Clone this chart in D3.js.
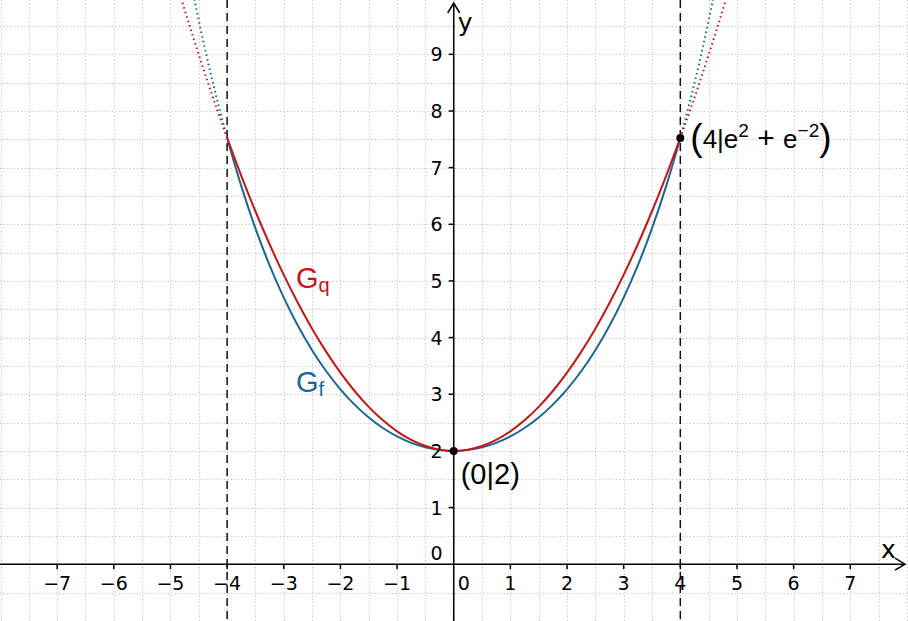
<!DOCTYPE html>
<html><head><meta charset="utf-8">
<script src="https://cdn.jsdelivr.net/npm/d3@7"></script>
<style>html,body{margin:0;padding:0;background:#fff;}svg{display:block;}</style>
</head><body>
<svg id="chart" width="908" height="621"></svg>
<script>
// ---- data ----
const xTicks = [-7,-6,-5,-4,-3,-2,-1,1,2,3,4,5,6,7];
const yTicks = [1,2,3,4,5,6,7,8,9];
const xTickLabels = ["−7","−6","−5","−4","−3","−2","−1","1","2","3","4","5","6","7"];
const yTickLabels = ["1","2","3","4","5","6","7","8","9"];

const xSolid = [-4,-3.75,-3.5,-3.25,-3,-2.75,-2.5,-2.25,-2,-1.75,-1.5,-1.25,-1,-0.75,-0.5,-0.25,0,0.25,0.5,0.75,1,1.25,1.5,1.75,2,2.25,2.5,2.75,3,3.25,3.5,3.75,4];
const fSolid = [7.524,6.674,5.928,5.275,4.705,4.208,3.777,3.405,3.086,2.816,2.589,2.404,2.255,2.142,2.063,2.016,2,2.016,2.063,2.142,2.255,2.404,2.589,2.816,3.086,3.405,3.777,4.208,4.705,5.275,5.928,6.674,7.524];
const qSolid = [7.524,6.855,6.230,5.647,5.107,4.611,4.158,3.748,3.381,3.057,2.777,2.539,2.345,2.194,2.086,2.022,2,2.022,2.086,2.194,2.345,2.539,2.777,3.057,3.381,3.748,4.158,4.611,5.107,5.647,6.230,6.855,7.524];

const xExtFRight = [4,4.2,4.4,4.6];
const fExtRight  = [7.524,8.289,9.136,10.074];
const xExtFLeft  = [-4,-4.2,-4.4,-4.6];
const fExtLeft   = [7.524,8.289,9.136,10.074];
const xExtQRight = [4,4.2,4.4,4.6,4.8,5.0];
const qExtRight  = [7.524,8.091,8.685,9.306,9.955,10.632];
const xExtQLeft  = [-4,-4.2,-4.4,-4.6,-4.8,-5.0];
const qExtLeft   = [7.524,8.091,8.685,9.306,9.955,10.632];

const boundaryX = [-4, 4];
const pointsX = [0, 4];
const pointsY = [2, 7.524];

// ---- setup ----
const W = 908, H = 621;
const svg = d3.select("#chart");
const x = d3.scaleLinear().domain([-8.009, 8.019]).range([0, W]);
const y = d3.scaleLinear().domain([-1.003, 9.959]).range([H, 0]);
const blue = "#1a6796", red = "#c81414";

// grid
const gx = d3.range(-16, 17).map(d => d/2);
const gy = d3.range(-2, 21).map(d => d/2);
const grid = svg.append("g").attr("stroke", "#c4c4c4").attr("stroke-width", 1).attr("stroke-dasharray", "1.2,2.3");
grid.selectAll("line.v").data(gx).join("line").attr("class","v")
  .attr("x1", d => Math.round(x(d))+0.5).attr("x2", d => Math.round(x(d))+0.5).attr("y1", 0).attr("y2", H);
grid.selectAll("line.h").data(gy).join("line").attr("class","h")
  .attr("y1", d => Math.round(y(d))+0.5).attr("y2", d => Math.round(y(d))+0.5).attr("x1", 0).attr("x2", W);

// dashed boundary lines
svg.append("g").selectAll("line").data(boundaryX).join("line")
  .attr("x1", d => x(d)).attr("x2", d => x(d)).attr("y1", 0).attr("y2", H)
  .attr("stroke", "#111").attr("stroke-width", 1.5).attr("stroke-dasharray", "8,5");

// curves
const line = d3.line().x(d => x(d[0])).y(d => y(d[1])).curve(d3.curveCatmullRom);
const zip = (a, b) => a.map((v, i) => [v, b[i]]);
function ext(xs, ys, color) {
  svg.append("path").attr("d", line(zip(xs, ys))).attr("fill", "none")
    .attr("stroke", color).attr("stroke-width", 2).attr("stroke-dasharray", "1.5,3.2");
}
ext(xExtFRight, fExtRight, blue);
ext(xExtFLeft, fExtLeft, blue);
ext(xExtQRight, qExtRight, red);
ext(xExtQLeft, qExtLeft, red);
svg.append("path").attr("d", line(zip(xSolid, fSolid))).attr("fill", "none").attr("stroke", blue).attr("stroke-width", 2);
svg.append("path").attr("d", line(zip(xSolid, qSolid))).attr("fill", "none").attr("stroke", red).attr("stroke-width", 2);

// axes
const ax = svg.append("g").attr("stroke", "#000").attr("stroke-width", 1.5).attr("fill", "none");
const x0 = x(0), y0 = y(0);
ax.append("line").attr("x1", 0).attr("x2", W - 3).attr("y1", y0).attr("y2", y0);
ax.append("line").attr("x1", x0).attr("x2", x0).attr("y1", H).attr("y2", 3);
ax.append("path").attr("d", `M${W-13},${y0-6}L${W-3},${y0}L${W-13},${y0+6}`);
ax.append("path").attr("d", `M${x0-6},${13}L${x0},${3}L${x0+6},${13}`);
ax.selectAll("line.xt").data(xTicks).join("line").attr("class","xt")
  .attr("x1", d => x(d)).attr("x2", d => x(d)).attr("y1", y0).attr("y2", y0 + 5);
ax.selectAll("line.yt").data(yTicks).join("line").attr("class","yt")
  .attr("y1", d => y(d)).attr("y2", d => y(d)).attr("x1", x0 - 5).attr("x2", x0);

// tick labels
const tl = svg.append("g").attr("font-family", "DejaVu Sans, sans-serif").attr("font-size", 19).attr("fill", "#000");
tl.selectAll("text.xl").data(xTicks).join("text").attr("class","xl")
  .attr("x", d => x(d)).attr("y", y0 + 26).attr("text-anchor", "middle")
  .text((d, i) => xTickLabels[i]);
tl.selectAll("text.yl").data(yTicks).join("text").attr("class","yl")
  .attr("x", x0 - 11).attr("y", d => y(d) + 7).attr("text-anchor", "end")
  .text((d, i) => yTickLabels[i]);
tl.append("text").attr("x", x0 + 10).attr("y", y0 + 26).attr("text-anchor", "middle").text("0");
tl.append("text").attr("x", x0 - 11).attr("y", y0 - 4).attr("text-anchor", "end").text("0");

// axis names
const an = svg.append("g").attr("font-family", "DejaVu Sans, sans-serif").attr("font-size", 25).attr("fill", "#000");
an.append("text").attr("x", W - 27).attr("y", y0 - 6).text("x");
an.append("text").attr("x", x0 + 4).attr("y", 31).text("y");

// points
svg.append("g").selectAll("circle").data(pointsX).join("circle")
  .attr("cx", d => x(d)).attr("cy", (d, i) => y(pointsY[i])).attr("r", 4).attr("fill", "#000");

// point labels
const lf = "Liberation Sans, Arial, sans-serif";
svg.append("text").attr("font-family", lf).attr("font-size", 29).attr("fill", "#000")
  .attr("x", x(0) + 7).attr("y", y(2) + 33).text("(0|2)");
const t2 = svg.append("text").attr("font-family", lf).attr("font-size", 26).attr("fill", "#000")
  .attr("x", x(4) + 10).attr("y", y(7.524) + 10);
t2.append("tspan").attr("font-size", 37).attr("dy", 2).text("(");
t2.append("tspan").attr("dy", -2).text("4|e");
t2.append("tspan").attr("font-size", 19).attr("dy", -11).text("2");
t2.append("tspan").attr("dy", 11).attr("font-size", 30).text(" + ");
t2.append("tspan").text("e");
t2.append("tspan").attr("font-size", 19).attr("dy", -11).text("−2");
t2.append("tspan").attr("font-size", 37).attr("dy", 13).text(")");

// curve names
const gq = svg.append("text").attr("font-family", lf).attr("font-size", 29).attr("fill", red)
  .attr("x", 296).attr("y", 288);
gq.append("tspan").text("G");
gq.append("tspan").attr("font-size", 20).attr("dy", 4).text("q");
const gf = svg.append("text").attr("font-family", lf).attr("font-size", 29).attr("fill", blue)
  .attr("x", 296).attr("y", 392);
gf.append("tspan").text("G");
gf.append("tspan").attr("font-size", 20).attr("dy", 4).text("f");
</script>
</body></html>
